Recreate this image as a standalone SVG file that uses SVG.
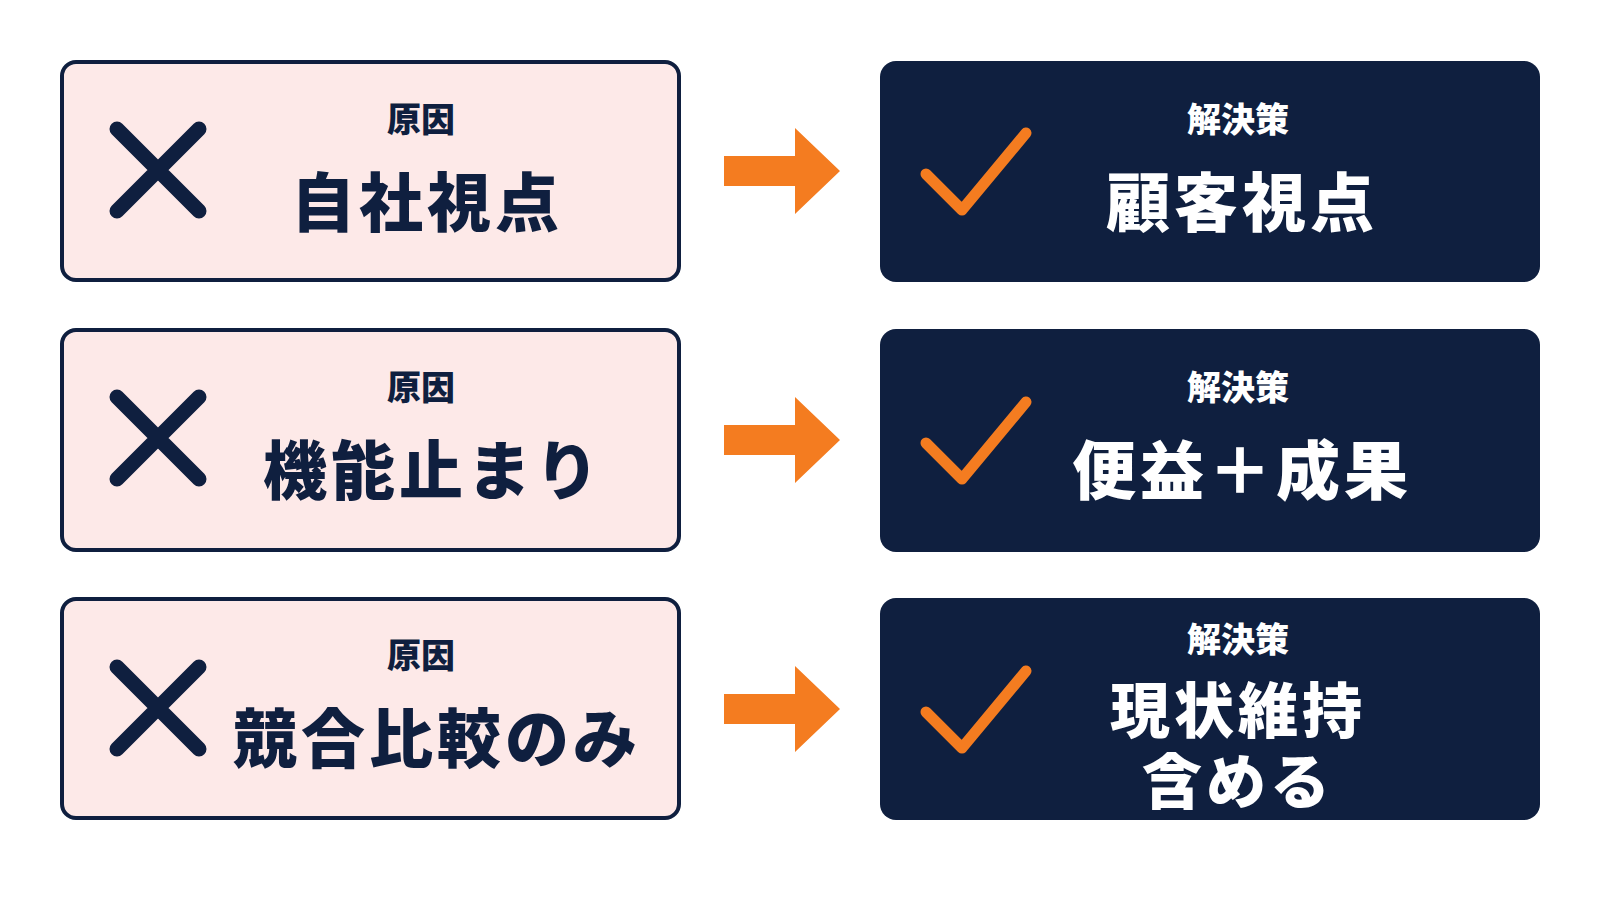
<svg xmlns="http://www.w3.org/2000/svg" width="1600" height="900" viewBox="0 0 1600 900">
<style>
.l{fill:#fde9e8;stroke:#0f1f3f;stroke-width:4}
.r{fill:#0f1f3f}
.x{stroke:#0f1f3f;stroke-width:15;stroke-linecap:round;fill:none}
.c{stroke:#f47c20;stroke-width:11;stroke-linecap:round;stroke-linejoin:round;fill:none}
.a{fill:#f47c20}
text{font-family:"Noto Sans CJK JP",sans-serif;font-weight:900;text-anchor:middle}
.s{font-size:34px}
.b{font-size:64px;letter-spacing:4px}
.m{font-size:60px;letter-spacing:4px}
.dk{fill:#0f1f3f}.wt{fill:#fff}
</style>
<rect width="1600" height="900" fill="#fff"/>
<g id="cause1"><rect class="l" x="62" y="62" width="617" height="218" rx="14"/><path class="x" d="M117 129L199 211M199 129L117 211"/><text class="s dk" x="421" y="132">原因</text><text class="b dk" x="427" y="226">自社視点</text></g>
<g id="cause2"><rect class="l" x="62" y="330" width="617" height="220" rx="14"/><path class="x" d="M117 397L199 479M199 397L117 479"/><text class="s dk" x="421" y="400">原因</text><text class="b dk" x="433" y="494">機能止まり</text></g>
<g id="cause3"><rect class="l" x="62" y="599" width="617" height="219" rx="14"/><path class="x" d="M117 667L199 749M199 667L117 749"/><text class="s dk" x="421" y="668">原因</text><text class="b dk" x="437" y="762">競合比較のみ</text></g>
<g id="sol1"><rect class="r" x="880" y="61" width="660" height="221" rx="16"/><path class="c" d="M926 174L962 210L1026 133"/><text class="s wt" x="1238" y="132">解決策</text><text class="b wt" x="1242" y="226">顧客視点</text></g>
<g id="sol2"><rect class="r" x="880" y="329" width="660" height="223" rx="16"/><path class="c" d="M926 443L962 479L1026 402"/><text class="s wt" x="1238" y="400">解決策</text><text class="b wt" x="1242" y="494">便益＋成果</text></g>
<g id="sol3"><rect class="r" x="880" y="598" width="660" height="222" rx="16"/><path class="c" d="M926 712L962 748L1026 671"/><text class="s wt" x="1238" y="652">解決策</text><text class="m wt" x="1238" y="733">現状維持</text><text class="m wt" x="1238" y="804">含める</text></g>
<g id="connectors">
<path class="a" d="M724 156H795V128L840 171L795 214V186H724Z"/>
<path class="a" d="M724 425H795V397L840 440L795 483V455H724Z"/>
<path class="a" d="M724 694H795V666L840 709L795 752V724H724Z"/>
</g>
</svg>
